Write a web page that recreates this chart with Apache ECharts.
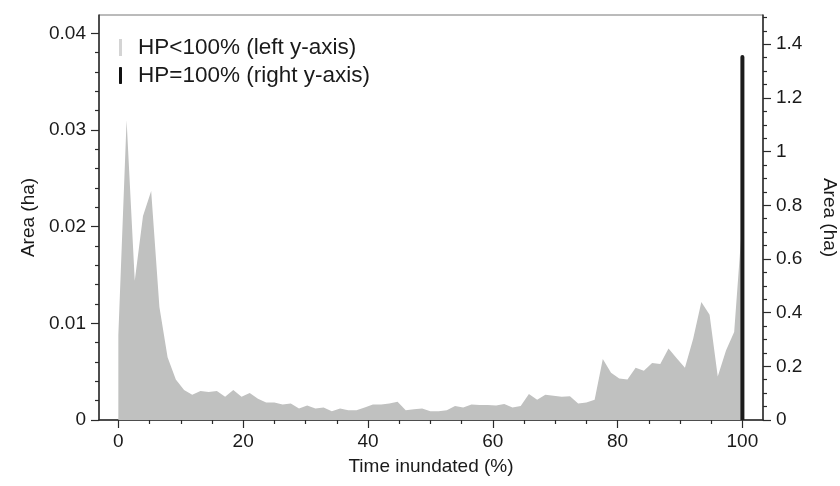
<!DOCTYPE html>
<html>
<head>
<meta charset="utf-8">
<script src="https://cdn.jsdelivr.net/npm/echarts@6/dist/echarts.min.js"></script>
<style>
html,body{margin:0;padding:0;background:#fff;}
#chart{width:840px;height:486px;}
</style>
</head>
<body>
<div id="chart"></div>
<script>
// ---- data ----
const timeInundated = [0, 1.32, 2.63, 3.95, 5.26, 6.58, 7.89, 9.21, 10.53, 11.84,
  13.16, 14.47, 15.79, 17.11, 18.42, 19.74, 21.05, 22.37, 23.68, 25,
  26.32, 27.63, 28.95, 30.26, 31.58, 32.89, 34.21, 35.53, 36.84, 38.16,
  39.47, 40.79, 42.11, 43.42, 44.74, 46.05, 47.37, 48.68, 50, 51.32,
  52.63, 53.95, 55.26, 56.58, 57.89, 59.21, 60.53, 61.84, 63.16, 64.47,
  65.79, 67.11, 68.42, 69.74, 71.05, 72.37, 73.68, 75, 76.32, 77.63,
  78.95, 80.26, 81.58, 82.89, 84.21, 85.53, 86.84, 88.16, 89.47, 90.79,
  92.11, 93.42, 94.74, 96.05, 97.37, 98.68, 100];
const areaPartial = [0.0088, 0.0310, 0.0144, 0.0211, 0.0237, 0.0117, 0.0065, 0.0042, 0.0031, 0.0026,
  0.0030, 0.0029, 0.0030, 0.0024, 0.0031, 0.0024, 0.0028, 0.0022, 0.0018, 0.0018,
  0.0016, 0.0017, 0.0012, 0.0015, 0.0012, 0.0013, 0.0009, 0.0012, 0.0010, 0.0010,
  0.0013, 0.0016, 0.0016, 0.0017, 0.0019, 0.0010, 0.0011, 0.0012, 0.0009, 0.0009,
  0.0010, 0.00145, 0.0013, 0.0016, 0.00155, 0.00155, 0.0015, 0.00165, 0.0013, 0.00145,
  0.0027, 0.0021, 0.0026, 0.0025, 0.0024, 0.00245, 0.0017, 0.0018, 0.0021, 0.0063,
  0.0049, 0.0043, 0.0042, 0.0054, 0.0051, 0.0059, 0.0058, 0.0074, 0.0064, 0.0054,
  0.0084, 0.0122, 0.0109, 0.0045, 0.0072, 0.0091, 0.0207];
const fullX = [100];
const areaFull = [1.36];

const seriesNames = ['HP<100% (left y-axis)', 'HP=100% (right y-axis)'];
const xMajorTicks = [0, 20, 40, 60, 80, 100];
const xMinorTicks = [5, 10, 15, 25, 30, 35, 45, 50, 55, 65, 70, 75, 85, 90, 95];
const leftMajorTicks = [0, 0.01, 0.02, 0.03, 0.04];
const leftMinorTicks = [0.002, 0.004, 0.006, 0.008, 0.012, 0.014, 0.016, 0.018, 0.022, 0.024, 0.026, 0.028, 0.032, 0.034, 0.036, 0.038];
const rightMajorTicks = [0, 0.2, 0.4, 0.6, 0.8, 1, 1.2, 1.4];
const rightMinorTicks = [0.05, 0.1, 0.15, 0.25, 0.3, 0.35, 0.45, 0.5, 0.55, 0.65, 0.7, 0.75, 0.85, 0.9, 0.95, 1.05, 1.1, 1.15, 1.25, 1.3, 1.35, 1.45, 1.5];

// ---- chart ----
const FONT = '"Liberation Sans", Arial, Helvetica, sans-serif';
const TXT = '#1a1a1a';
const AX = '#2a2a2a';
const X_MIN = -3.1, X_MAX = 103.3, L_MAX = 0.0419, R_MAX = 1.509;

const chart = echarts.init(document.getElementById('chart'), null, {renderer: 'canvas'});

const axisLineStyle = {color: AX, width: 1.5};
const tickLineStyle = {color: AX, width: 1.2};

chart.setOption({
  animation: false,
  backgroundColor: '#fff',
  textStyle: {fontFamily: FONT},
  grid: {left: 99, right: 77, top: 15, bottom: 66, containLabel: false, outerBoundsMode: 'none',
         show: true, borderColor: '#777', borderWidth: 1, backgroundColor: 'transparent'},
  legend: {
    orient: 'vertical', left: 119, top: 36, padding: 0, itemGap: 5,
    itemWidth: 3, itemHeight: 17, selectedMode: false,
    textStyle: {fontSize: 22.5, color: TXT, fontFamily: FONT, padding: [0, 0, 0, 11]},
    data: [
      {name: seriesNames[0], icon: 'rect', itemStyle: {color: '#d4d4d4'}},
      {name: seriesNames[1], icon: 'roundRect', itemStyle: {color: '#111'}}
    ]
  },
  xAxis: [
    {
      type: 'value', position: 'bottom', min: X_MIN, max: X_MAX,
      name: 'Time inundated (%)', nameLocation: 'middle', nameGap: 37,
      nameTextStyle: {fontSize: 19, color: TXT, fontFamily: FONT},
      axisLine: {show: true, onZero: false, lineStyle: axisLineStyle},
      axisTick: {show: true, customValues: xMajorTicks, length: 8, lineStyle: tickLineStyle},
      axisLabel: {customValues: xMajorTicks, fontSize: 19, color: TXT, margin: 12, fontFamily: FONT},
      splitLine: {show: false}
    },
    {
      type: 'value', position: 'bottom', min: X_MIN, max: X_MAX,
      axisLine: {show: false, onZero: false},
      axisTick: {show: true, customValues: xMinorTicks, length: 4, lineStyle: tickLineStyle},
      axisLabel: {show: false},
      splitLine: {show: false}
    }
  ],
  yAxis: [
    {
      type: 'value', position: 'left', min: 0, max: L_MAX,
      name: 'Area (ha)', nameLocation: 'middle', nameGap: 61, nameRotate: 90,
      nameTextStyle: {fontSize: 19, color: TXT, fontFamily: FONT},
      axisLine: {show: true, onZero: false, lineStyle: axisLineStyle},
      axisTick: {show: true, customValues: leftMajorTicks, length: 8, lineStyle: tickLineStyle},
      axisLabel: {customValues: leftMajorTicks, fontSize: 19, color: TXT, margin: 13, fontFamily: FONT},
      splitLine: {show: false}
    },
    {
      type: 'value', position: 'right', min: 0, max: R_MAX,
      name: 'Area (ha)', nameLocation: 'middle', nameGap: 57, nameRotate: -90,
      nameTextStyle: {fontSize: 19, color: TXT, fontFamily: FONT},
      axisLine: {show: true, onZero: false, lineStyle: axisLineStyle},
      axisTick: {show: true, customValues: rightMajorTicks, length: 8, lineStyle: tickLineStyle},
      axisLabel: {customValues: rightMajorTicks, fontSize: 19, color: TXT, margin: 13, fontFamily: FONT},
      splitLine: {show: false}
    },
    {
      type: 'value', position: 'left', min: 0, max: L_MAX,
      axisLine: {show: false, onZero: false},
      axisTick: {show: true, customValues: leftMinorTicks, length: 4, lineStyle: tickLineStyle},
      axisLabel: {show: false}, splitLine: {show: false}
    },
    {
      type: 'value', position: 'right', min: 0, max: R_MAX,
      axisLine: {show: false, onZero: false},
      axisTick: {show: true, customValues: rightMinorTicks, length: 4, lineStyle: tickLineStyle},
      axisLabel: {show: false}, splitLine: {show: false}
    }
  ],
  series: [
    {
      name: seriesNames[0], type: 'line', xAxisIndex: 0, yAxisIndex: 0,
      data: timeInundated.map((x, i) => [x, areaPartial[i]]),
      symbol: 'none', smooth: false,
      itemStyle: {color: '#c0c1c0'},
      lineStyle: {width: 0, color: '#c0c1c0'},
      areaStyle: {color: '#c0c1c0', opacity: 1},
      z: 2
    },
    {
      name: seriesNames[1], type: 'bar', xAxisIndex: 0, yAxisIndex: 1,
      data: fullX.map((x, i) => [x, areaFull[i]]),
      barWidth: 4,
      itemStyle: {color: '#1c1c1c', borderRadius: [2, 2, 0, 0]},
      z: 3
    }
  ]
});
</script>
</body>
</html>
